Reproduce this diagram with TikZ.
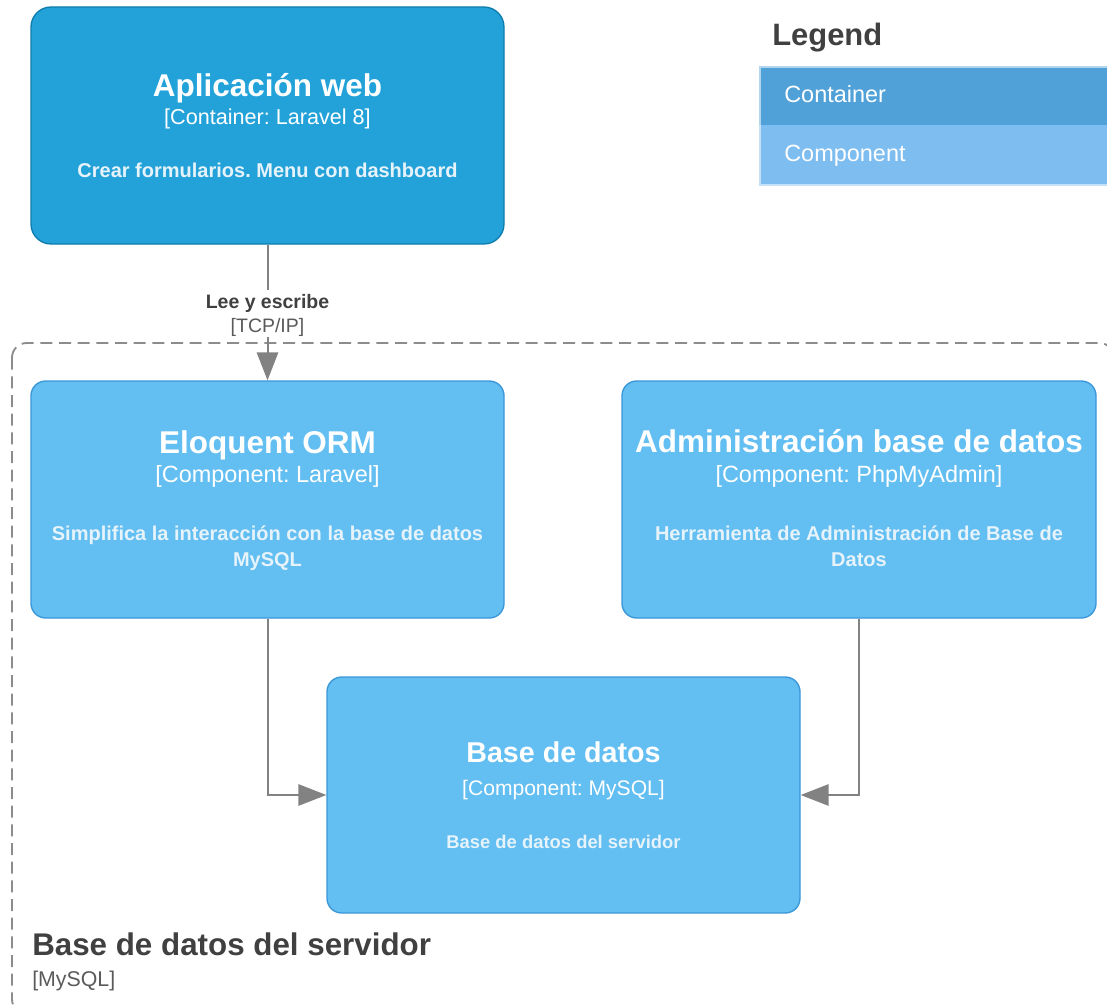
\documentclass[tikz,border=0pt]{standalone}
\usepackage{fontspec}
\setmainfont{Liberation Sans}
\usetikzlibrary{arrows.meta}
\frenchspacing
\definecolor{contfill}{HTML}{23A2D9}
\definecolor{contline}{HTML}{0E7DAD}
\definecolor{compfill}{HTML}{63BEF2}
\definecolor{compline}{HTML}{3A97D8}
\definecolor{legcont}{HTML}{4FA1D8}
\definecolor{legcomp}{HTML}{7DBDF0}
\definecolor{arrowgray}{HTML}{828282}
\definecolor{dashgray}{HTML}{8C8C8C}
\definecolor{darktext}{HTML}{404040}
\definecolor{midtext}{HTML}{5A5A5A}
\definecolor{desctext}{HTML}{E6F3FA}
\begin{document}
\frenchspacing
\begin{tikzpicture}[x=0.75pt,y=-0.75pt,
  contbox/.style={rectangle, rounded corners=15pt, fill=contfill, draw=contline, line width=1pt,
     minimum width=354.75pt, minimum height=177.75pt, inner sep=0pt},
  compbox/.style={rectangle, rounded corners=11pt, fill=compfill, draw=compline, line width=1pt,
     minimum width=354.75pt, minimum height=177.75pt, inner sep=0pt},
  ttl/.style={anchor=base, inner sep=0pt, text=white, font=\bfseries\fontsize{23.6}{28}\selectfont},
  tech/.style={anchor=base, inner sep=0pt, text=white, font=\fontsize{17.6}{21}\selectfont},
  desc/.style={anchor=base, inner sep=0pt, text=desctext, font=\bfseries\fontsize{15}{18}\selectfont},
  conn/.style={draw=arrowgray, line width=1.5pt, -{Triangle[length=21pt,width=16pt]}},
  boundary/.style={draw=dashgray, line width=1.4pt, dash pattern=on 9pt off 5pt, rounded corners=11pt},
  legtext/.style={anchor=base west, inner sep=0pt, text=white, font=\fontsize{17.6}{21}\selectfont},
  elabel/.style={inner sep=0pt, font=\fontsize{14.6}{17}\selectfont},
]
\useasboundingbox (0,0) rectangle (1107,1006);
\begin{scope}
  \clip (0,0) rectangle (1107,1006);
  \draw[boundary] (12,343) rectangle (1114,1014);
  \fill[legcont] (760,67) rectangle (1115,125);
  \fill[legcomp] (760,125) rectangle (1115,185);
  \draw[white!55!legcont, line width=0.8pt] (1115,67) -- (760,67) -- (760,125);
  \draw[white!55!legcomp, line width=0.8pt] (760,125) -- (760,185) -- (1115,185);
\end{scope}

% legend
\node[anchor=base west, inner sep=0pt, text=darktext, font=\bfseries\fontsize{23.2}{28}\selectfont] (legtitle) at (772,45.7) {Legend};
\node[legtext] (legcontainer) at (784,102.5) {Container};
\node[legtext] (legcomponent) at (784,161.5) {Component};

% boundary label
\node[anchor=base west, inner sep=0pt, text=darktext, font=\bfseries\fontsize{23.5}{28}\selectfont] (bndtitle) at (32,955) {Base de datos del servidor};
\node[anchor=base west, inner sep=0pt, text=midtext, font=\fontsize{16}{19}\selectfont] (bndtech) at (32,986) {[MySQL]};

% boxes
\node[contbox] (app) at (267.5,125.5) {};
\node[compbox] (eloq) at (267.5,499.5) {};
\node[compbox, minimum width=355.5pt] (adm) at (859,499.5) {};
\node[compbox, minimum height=177pt] (db) at (563.5,795) {};

% app text
\node[ttl] (appt) at (267.5,97) {Aplicación web};
\node[tech, font=\fontsize{16.2}{20}\selectfont] (appk) at (267.5,124) {[Container: Laravel 8]};
\node[desc] (appd) at (267.5,177) {Crear formularios. Menu con dashboard};

% eloquent text
\node[ttl] (eloqt) at (267.5,453) {Eloquent ORM};
\node[tech] (eloqk) at (267.5,482) {[Component: Laravel]};
\node[desc] (eloqd1) at (267.5,540) {Simplifica la interacción con la base de datos};
\node[desc] (eloqd2) at (267.5,566.7) {MySQL};

% admin text
\node[ttl] (admt) at (859,452) {Administración base de datos};
\node[tech] (admk) at (859,482.5) {[Component: PhpMyAdmin]};
\node[desc] (admd1) at (859,540) {Herramienta de Administración de Base de};
\node[desc] (admd2) at (859,566.7) {Datos};

% db text
\node[ttl, font=\bfseries\fontsize{21.5}{26}\selectfont] (dbt) at (563.5,762.7) {Base de datos};
\node[tech, font=\fontsize{15.8}{19}\selectfont] (dbk) at (563.5,795) {[Component: MySQL]};
\node[desc, font=\bfseries\fontsize{13.8}{16}\selectfont] (dbd) at (563.5,848.3) {Base de datos del servidor};

% connectors
\draw[conn] (app.south) -- (eloq.north);
\node[elabel, fill=white, minimum width=130pt, minimum height=35pt] (lbl) at (267.5,313.5) {};
\node[elabel, anchor=base, text=darktext, font=\bfseries\fontsize{14.6}{17}\selectfont] (lbl1) at (267.5,308.3) {Lee y escribe};
\node[elabel, anchor=base, text=midtext] (lbl2) at (267.5,332.7) {[TCP/IP]};
\draw[conn] (eloq.south) |- (db.west);
\draw[conn] (adm.south) |- (db.east);
\end{tikzpicture}
\end{document}
